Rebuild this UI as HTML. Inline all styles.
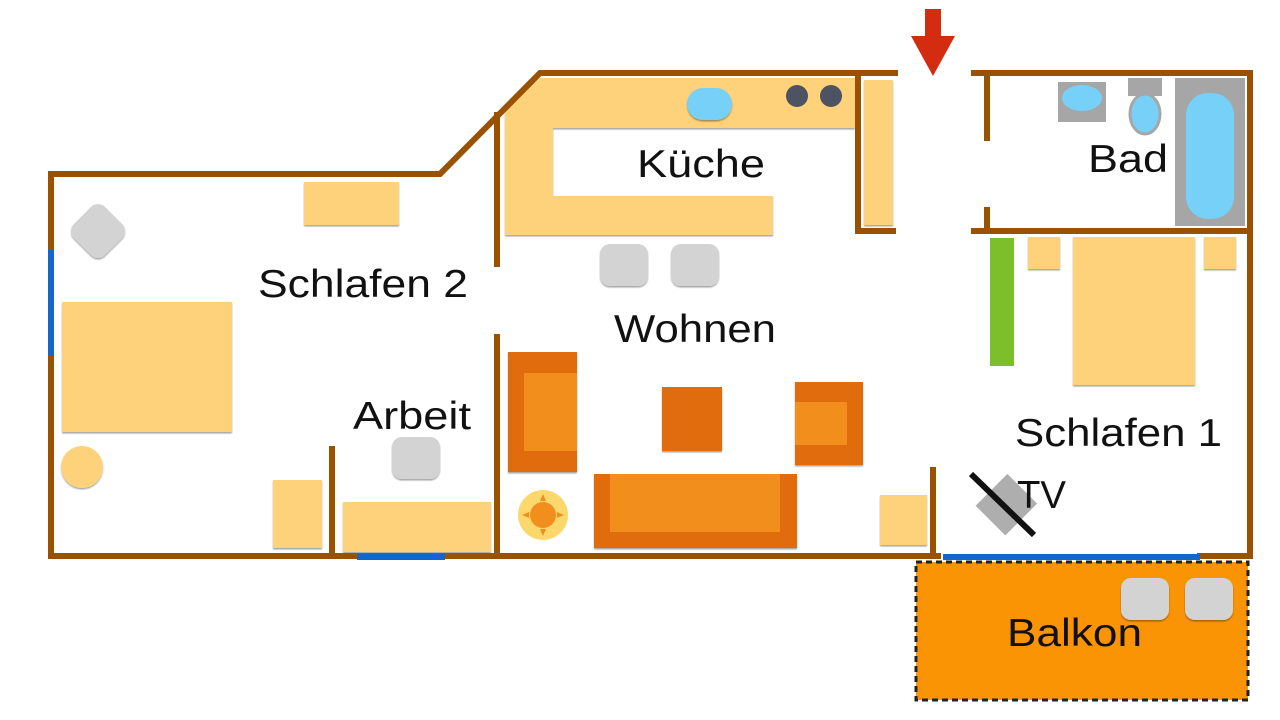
<!DOCTYPE html>
<html><head><meta charset="utf-8"><style>html,body{margin:0;padding:0;background:#fff;}svg{display:block}</style></head>
<body>
<svg width="1280" height="720" viewBox="0 0 1280 720" xmlns="http://www.w3.org/2000/svg" font-family="Liberation Sans, sans-serif">
<defs><filter id="s" x="-10%" y="-10%" width="130%" height="130%"><feDropShadow dx="0" dy="1.5" stdDeviation="0.8" flood-color="#000" flood-opacity="0.35"/></filter></defs>
<rect x="916" y="562" width="332" height="138" fill="#fb9405" stroke="#222" stroke-width="3" stroke-dasharray="6,4"/>
<g fill="#fdd27a" filter="url(#s)">
<path d="M505 110 L540 78 L855 78 L855 128 L553 128 L553 196 L773 196 L773 235 L505 235 Z"/>
<rect x="864" y="80" width="29" height="145"/>
<rect x="304" y="182" width="95" height="43"/>
<rect x="62" y="302" width="170" height="130"/>
<circle cx="82" cy="467" r="21"/>
<rect x="273" y="480" width="49" height="68"/>
<rect x="343" y="502" width="148" height="50"/>
<rect x="880" y="495" width="47" height="50"/>
<rect x="1073" y="237" width="122" height="148"/>
<rect x="1028" y="237" width="32" height="32"/>
<rect x="1204" y="237" width="32" height="32"/>
</g>
<g fill="#d3d3d3" filter="url(#s)">
<rect x="76" y="209" width="44" height="44" rx="10" transform="rotate(45 98 231)"/>
<rect x="392" y="437" width="48" height="42" rx="10"/>
<rect x="600" y="244" width="48" height="42" rx="10"/>
<rect x="671" y="244" width="48" height="42" rx="10"/>
<rect x="1121" y="578" width="48" height="42" rx="10"/>
<rect x="1185" y="578" width="48" height="42" rx="10"/>
</g>
<g filter="url(#s)">
<rect x="508" y="352" width="69" height="120" fill="#e06c10"/>
<rect x="524" y="373" width="53" height="78" fill="#f28e1e"/>
<rect x="662" y="387" width="60" height="64" fill="#e06c10"/>
<rect x="795" y="382" width="68" height="83" fill="#e06c10"/>
<rect x="795" y="402" width="52" height="43" fill="#f28e1e"/>
<rect x="594" y="474" width="203" height="74" fill="#e06c10"/>
<rect x="610" y="474" width="170" height="58" fill="#f28e1e"/>
</g>
<circle cx="543" cy="515" r="25" fill="#fcd86c"/>
<circle cx="543" cy="515" r="13" fill="#f28e1e"/>
<g fill="#f28e1e"><path d="M543 494 l3 7 h-6z"/><path d="M543 536 l3 -7 h-6z"/><path d="M522 515 l7 3 v-6z"/><path d="M564 515 l-7 3 v-6z"/></g>
<rect x="687" y="88" width="45" height="32" rx="16" fill="#76d0f8" filter="url(#s)"/>
<circle cx="797" cy="96" r="11" fill="#4d5361"/><circle cx="831" cy="96" r="11" fill="#4d5361"/>
<rect x="1175" y="78" width="70" height="148" fill="#a6a6a6"/>
<rect x="1186" y="93" width="48" height="126" rx="22" fill="#76d0f8"/>
<rect x="1058" y="82" width="48" height="40" fill="#a6a6a6"/>
<ellipse cx="1082" cy="98" rx="20" ry="13" fill="#76d0f8"/>
<rect x="1128" y="78" width="34" height="18" fill="#a6a6a6"/>
<ellipse cx="1145" cy="114" rx="15" ry="20" fill="#76d0f8" stroke="#a6a6a6" stroke-width="3"/>
<rect x="990" y="238" width="24" height="128" fill="#7cbf2a"/>
<rect x="985" y="482" width="42" height="45" fill="#a0a0a0" transform="rotate(45 1006 505)" opacity="0.85"/>
<line x1="971" y1="474" x2="1034" y2="535" stroke="#111" stroke-width="6"/>
<path d="M925 9 h16 v27 h14 l-22 40 l-22 -40 h14z" fill="#d42c10"/>
<g stroke="#9a5200" stroke-width="6" fill="none" stroke-linecap="square">
<path d="M895 73 H540 L440 174 H51 V556 H938"/>
<path d="M974 73 H1250 V556 H1200"/>
<line x1="497" y1="115" x2="497" y2="264"/>
<line x1="497" y1="337" x2="497" y2="556"/>
<line x1="332" y1="449" x2="332" y2="556"/>
<path d="M858 75 V231 H893"/>
<line x1="987" y1="78" x2="987" y2="138"/>
<line x1="987" y1="210" x2="987" y2="228"/>
<line x1="974" y1="231" x2="1250" y2="231"/>
<line x1="933" y1="470" x2="933" y2="556"/>
</g>
<g stroke="#1566c8" stroke-width="6">
<line x1="51" y1="250" x2="51" y2="356"/>
<line x1="357" y1="557" x2="445" y2="557"/>
<line x1="943" y1="557" x2="1200" y2="557"/>
</g>
<g font-size="39" fill="#111" lengthAdjust="spacingAndGlyphs">
<text x="637" y="177" textLength="128" lengthAdjust="spacingAndGlyphs">Küche</text>
<text x="1088" y="172" textLength="80" lengthAdjust="spacingAndGlyphs">Bad</text>
<text x="258" y="297" textLength="210" lengthAdjust="spacingAndGlyphs">Schlafen 2</text>
<text x="614" y="342" textLength="162" lengthAdjust="spacingAndGlyphs">Wohnen</text>
<text x="353" y="429" textLength="118" lengthAdjust="spacingAndGlyphs">Arbeit</text>
<text x="1015" y="446" textLength="207" lengthAdjust="spacingAndGlyphs">Schlafen 1</text>
<text x="1017" y="508" textLength="49" lengthAdjust="spacingAndGlyphs">TV</text>
<text x="1007" y="646" textLength="135" lengthAdjust="spacingAndGlyphs">Balkon</text>
</g>
</svg>
</body></html>
